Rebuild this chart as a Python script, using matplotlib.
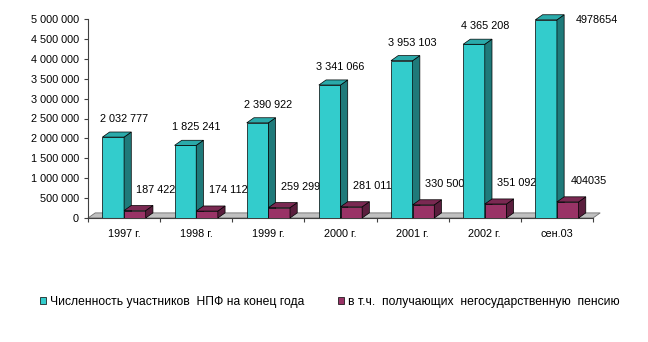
import matplotlib
matplotlib.use("Agg")
import matplotlib.pyplot as plt
from matplotlib.patches import Polygon, Patch
from matplotlib.ticker import FuncFormatter

plt.rcParams["font.family"] = ["Liberation Sans", "DejaVu Sans"]

categories = ["1997 г.", "1998 г.", "1999 г.", "2000 г.", "2001 г.", "2002 г.", "сен.03"]
participants = [2032777, 1825241, 2390922, 3341066, 3953103, 4365208, 4978654]
pensioners = [187422, 174112, 259299, 281011, 330500, 351092, 404035]
participant_labels = ["2 032 777", "1 825 241", "2 390 922", "3 341 066",
                      "3 953 103", "4 365 208", "4978654"]
pensioner_labels = ["187 422", "174 112", "259 299", "281 011",
                    "330 500", "351 092", "404035"]
series_names = ["Численность участников  НПФ на конец года",
                "в т.ч.  получающих  негосударственную  пенсию"]

cyan = ("#33CCCC", "#2AAAAA", "#1F7A7A")      # front, top, side
maroon = ("#993366", "#7A2952", "#5A1E3D")
fs = 7.8

fig = plt.figure(figsize=(6.48, 3.42), dpi=100)
ax = fig.add_axes([88 / 648, (342 - 218) / 342, 505 / 648, 199 / 342])
ax.set_xlim(-0.5, 6.5)
ax.set_ylim(0, 5000000)

dx = 0.1
dy = 128000
w = 0.3

# floor
ax.add_patch(Polygon([(-0.5, 0), (6.5, 0), (6.5 + dx, dy), (-0.5 + dx, dy)],
                     closed=True, facecolor="#C0C0C0", edgecolor="#707070",
                     lw=0.6, clip_on=False, zorder=1))


def bar3d(x0, v, cols, z):
    x1 = x0 + w
    ax.bar(x0, v, width=w, align="edge", color=cols[0], edgecolor="black",
           lw=0.5, zorder=z)
    ax.add_patch(Polygon([(x1, 0), (x1 + dx, dy), (x1 + dx, v + dy), (x1, v)],
                         closed=True, facecolor=cols[2], edgecolor="black",
                         lw=0.5, clip_on=False, zorder=z))
    ax.add_patch(Polygon([(x0, v), (x0 + dx, v + dy), (x1 + dx, v + dy), (x1, v)],
                         closed=True, facecolor=cols[1], edgecolor="black",
                         lw=0.5, clip_on=False, zorder=z))


for i in range(len(categories)):
    bar3d(i - w, participants[i], cyan, 2 + 2 * i)
    bar3d(i, pensioners[i], maroon, 3 + 2 * i)
    if participants[i] + 600000 > 5000000:
        ax.annotate(participant_labels[i], (i + 0.56, participants[i]),
                    ha="center", va="center", fontsize=fs, annotation_clip=False)
    else:
        ax.annotate(participant_labels[i], (i, participants[i]),
                    xytext=(0, 18), textcoords="offset pixels",
                    ha="center", va="center", fontsize=fs)
    ax.annotate(pensioner_labels[i], (i + 0.44, pensioners[i]),
                xytext=(0, 21), textcoords="offset pixels",
                ha="center", va="center", fontsize=fs)

ax.spines["top"].set_visible(False)
ax.spines["right"].set_visible(False)
ax.spines["left"].set_color("#404040")
ax.spines["bottom"].set_color("#404040")
ax.spines["left"].set_linewidth(0.8)
ax.spines["bottom"].set_linewidth(0.8)

ax.set_yticks(range(0, 5000001, 500000))
ax.yaxis.set_major_formatter(FuncFormatter(lambda v, p: f"{int(v):,}".replace(",", " ")))
ax.tick_params(axis="y", length=3, width=0.8, color="#404040", pad=3.6, labelsize=fs)

ax.set_xticks([i - 0.5 for i in range(len(categories) + 1)])
ax.set_xticklabels([])
ax.set_xticks(range(len(categories)), minor=True)
ax.set_xticklabels(categories, minor=True, fontsize=fs)
ax.tick_params(axis="x", which="major", length=3, width=0.8, color="#404040")
ax.tick_params(axis="x", which="minor", length=0, pad=8)

handles = [Patch(facecolor=cyan[0], edgecolor="black", lw=0.5),
           Patch(facecolor=maroon[0], edgecolor="black", lw=0.5)]
fig.legend(handles, series_names, loc="center", bbox_to_anchor=(330 / 648, 1 - 302 / 342),
           ncol=2, frameon=False, fontsize=8.7, handlelength=0.5, handleheight=0.5,
           handletextpad=0.3, columnspacing=2.8)

fig.savefig("out.png", dpi=100)
